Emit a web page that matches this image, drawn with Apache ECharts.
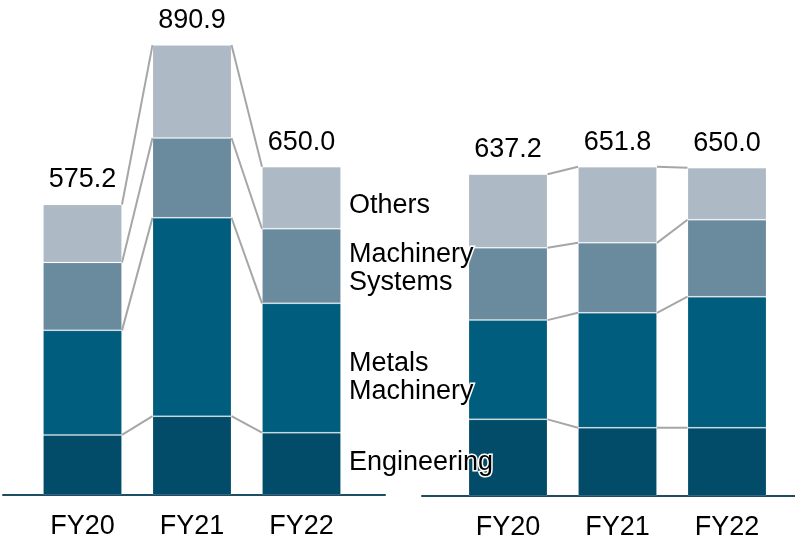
<!DOCTYPE html>
<html lang="en">
<head>
<meta charset="UTF-8">
<title>Segment sales FY20-FY22</title>
<script src="https://cdn.jsdelivr.net/npm/echarts@6/dist/echarts.min.js"></script>
<style>
    html, body { margin: 0; padding: 0; background: #fff; }
    #main { width: 795px; height: 538px; }
</style>
</head>
<body>
<div id="main"></div>
<script>
    var years = ['FY20', 'FY21', 'FY22'];
    var segNames = ['Engineering', 'Metals\nMachinery', 'Machinery\nSystems', 'Others'];

    // left block (bottom to top)
    var leftEng = [119.0, 156.0, 123.4];
    var leftMetals = [207.0, 393.0, 256.2];
    var leftMachSys = [134.5, 158.0, 147.6];
    var leftOthers = [114.7, 183.9, 122.8];
    var leftTotals = [575.2, 890.9, 650.0];

    // right block (bottom to top)
    var rightEng = [151.8, 135.2, 135.2];
    var rightMetals = [196.5, 227.6, 259.4];
    var rightMachSys = [143.1, 138.5, 152.5];
    var rightOthers = [145.8, 150.5, 102.9];
    var rightTotals = [637.2, 651.8, 650.0];

    var colors = ['#034c69', '#015d7d', '#6a8a9e', '#adb9c5'];
    var BAR_W = 79;
    var FONT = '"Liberation Sans", Arial, sans-serif';
    var nameOffsets = [-1, 10, 3, 8];

    // cumulative levels between neighbouring bars, for the grey connectors
    function connectorData(stacks) {
        var out = [];
        for (var i = 0; i < years.length - 1; i++) {
            var a = 0, b = 0;
            for (var k = 0; k < stacks.length; k++) {
                a += stacks[k][i];
                b += stacks[k][i + 1];
                out.push([i, a, b]);
            }
        }
        return out;
    }

    function renderConnector(params, api) {
        var p0 = api.coord([api.value(0), api.value(1)]);
        var p1 = api.coord([api.value(0) + 1, api.value(2)]);
        return {
            type: 'line',
            shape: {x1: p0[0] + BAR_W / 2, y1: p0[1], x2: p1[0] - BAR_W / 2, y2: p1[1]},
            style: {stroke: '#a6a6a6', lineWidth: 2}
        };
    }

    function barSeries(stacks, idx, stackName, withNames) {
        var list = [];
        for (var k = 0; k < stacks.length; k++) {
            var data = stacks[k].map(function (v, i) {
                if (withNames && i === years.length - 1) {
                    return {
                        value: v,
                        label: {
                            show: true, position: 'right', distance: 8,
                            offset: [0, nameOffsets[k]],
                            formatter: segNames[k],
                            color: '#000', fontSize: 27, lineHeight: 28, fontFamily: FONT,
                            align: 'left',
                            textBorderColor: '#fff', textBorderWidth: 3
                        }
                    };
                }
                return v;
            });
            list.push({
                type: 'bar',
                name: segNames[k],
                stack: stackName,
                xAxisIndex: idx, yAxisIndex: idx,
                barWidth: BAR_W,
                itemStyle: {color: colors[k], borderColor: 'rgba(255,255,255,0.15)', borderWidth: 1},
                data: data,
                z: withNames ? 3 : 2
            });
        }
        return list;
    }

    function totalSeries(totals, idx) {
        return {
            type: 'scatter',
            xAxisIndex: idx, yAxisIndex: idx,
            symbolSize: 0,
            itemStyle: {opacity: 1},
            data: totals,
            label: {
                show: true, position: 'top', distance: 11,
                formatter: function (p) { return p.value.toFixed(1); },
                color: '#000', fontSize: 27, fontFamily: FONT
            }
        };
    }

    var leftStacks = [leftEng, leftMetals, leftMachSys, leftOthers];
    var rightStacks = [rightEng, rightMetals, rightMachSys, rightOthers];

    var catAxis = function (idx) {
        return {
            type: 'category', gridIndex: idx, data: years,
            axisLine: {show: false}, axisTick: {show: false},
            axisLabel: {color: '#000', fontSize: 27, fontFamily: FONT, margin: 18}
        };
    };
    var valAxis = function (idx) {
        return {type: 'value', gridIndex: idx, min: 0, max: 900, show: false};
    };
    var baseAxis = function (idx) {
        return {
            type: 'value', gridIndex: idx, min: 0, max: 1,
            axisLine: {show: true, lineStyle: {color: '#1e4d63', width: 2}},
            axisTick: {show: false}, axisLabel: {show: false}, splitLine: {show: false}
        };
    };

    var myChart = echarts.init(document.getElementById('main'));
    var option = {
        animation: false,
        grid: [
            {left: 27.75, width: 328.5, bottom: 43, height: 454.5, outerBoundsMode: 'none'},
            {left: 453.25, width: 328.5, bottom: 42, height: 454.5, outerBoundsMode: 'none'},
            {left: 3, width: 382, bottom: 43, height: 1, outerBoundsMode: 'none'},
            {left: 422, width: 373, bottom: 42, height: 1, outerBoundsMode: 'none'}
        ],
        xAxis: [catAxis(0), catAxis(1), baseAxis(2), baseAxis(3)],
        yAxis: [valAxis(0), valAxis(1),
            {type: 'value', gridIndex: 2, show: false},
            {type: 'value', gridIndex: 3, show: false}],
        series: []
            .concat(barSeries(leftStacks, 0, 'left', true))
            .concat(barSeries(rightStacks, 1, 'right', false))
            .concat([
                totalSeries(leftTotals, 0),
                totalSeries(rightTotals, 1),
                {
                    type: 'custom', xAxisIndex: 0, yAxisIndex: 0,
                    renderItem: renderConnector, data: connectorData(leftStacks)
                },
                {
                    type: 'custom', xAxisIndex: 1, yAxisIndex: 1,
                    renderItem: renderConnector, data: connectorData(rightStacks)
                }
            ])
    };
    myChart.setOption(option);
</script>
</body>
</html>
